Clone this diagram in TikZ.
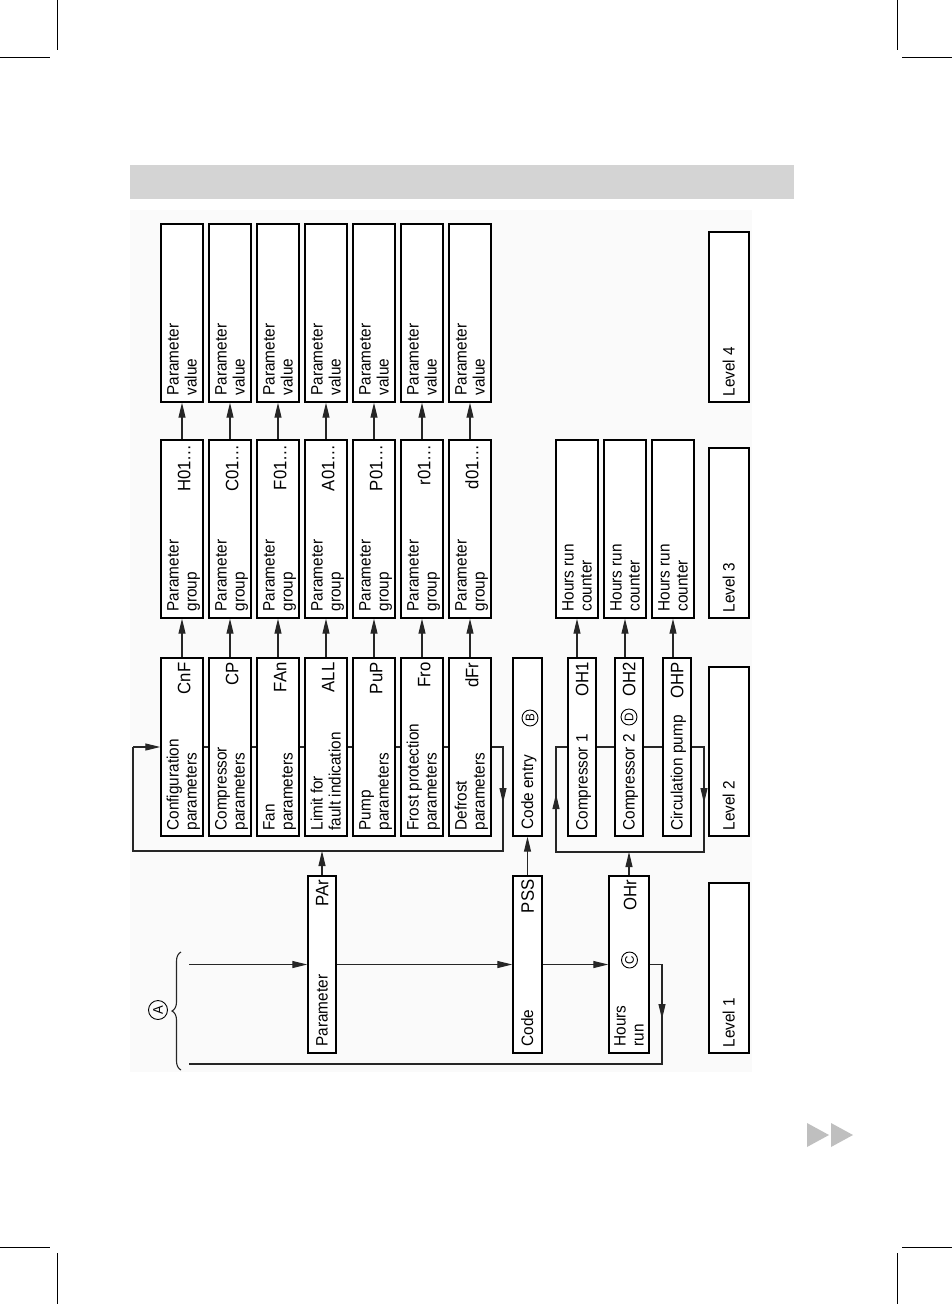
\documentclass[tikz,border=0pt]{standalone}
\usepackage{fontspec}
\setmainfont{Liberation Sans}[FakeStretch=0.93]
\usetikzlibrary{arrows.meta,calc,decorations.pathreplacing}
\newcommand\lfont{\fontsize{16.5}{18}\selectfont}
\newcommand\cfont{\fontsize{18}{20}\selectfont}
\newcommand\rfont{\fontsize{12.5}{14}\selectfont}
\newcommand\tw[2]{\rule{0pt}{15pt}#1\\#2\rule[-4pt]{0pt}{4pt}}
\newcommand\on[1]{\rule{0pt}{15pt}#1\rule[-4pt]{0pt}{4pt}}
\begin{document}
\begin{tikzpicture}[x=1pt,y=1pt,
 bx/.style={draw=black, line width=1.4pt, fill=white, rotate=90, inner sep=0pt},
 lbl/.style={rotate=90, anchor=west, align=left, inner sep=0pt, font=\lfont},
 cd/.style={rotate=90, anchor=east, inner sep=0pt, text height=12.5pt, text depth=0pt, font=\cfont},
 conn/.style={line width=1.1pt, draw=black!85},
 arr/.style={conn, -{Triangle[length=15pt,width=7pt]}},
 rc/.style={draw, circle, line width=0.9pt, rotate=90, inner sep=0pt, minimum size=16pt, font=\rfont},
 cropmk/.style={line width=0.9pt, draw=black}
]
\useasboundingbox (0,0) rectangle (952,-1304);
\fill[white] (0,0) rectangle (952,-1304);
% crop marks
\draw[cropmk] (57,0) -- (57,-50);
\draw[cropmk] (0,-57) -- (50,-57);
\draw[cropmk] (897,0) -- (897,-50);
\draw[cropmk] (902,-57) -- (952,-57);
\draw[cropmk] (0,-1247) -- (50,-1247);
\draw[cropmk] (57,-1253) -- (57,-1304);
\draw[cropmk] (902,-1247) -- (952,-1247);
\draw[cropmk] (897,-1253) -- (897,-1304);
% header bar and background
\fill[black!17] (130,-165) rectangle (794,-199);
\fill[black!2] (130,-210) rectangle (752,-1072);
% next-page icon
\fill[black!25] (807,-1123) -- (829,-1135) -- (807,-1147) -- cycle;
\fill[black!25] (831,-1123) -- (853,-1135) -- (831,-1147) -- cycle;

% parameter columns
\foreach \i/\a/\b/\c/\g in {0/Configuration/parameters/CnF/H01…,
  1/Compressor/parameters/CP/C01…, 2/Fan/parameters/FAn/F01…,
  3/Limit for/fault indication/ALL/A01…, 4/Pump/parameters/PuP/P01…,
  5/Frost protection/parameters/Fro/r01…, 6/Defrost/parameters/dFr/d01…}{
  \pgfmathsetmacro\xx{182+48*\i}
  \node[bx, minimum width=178pt, minimum height=42pt] (pv\i) at (\xx,-313) {};
  \node[lbl] (pvl\i) at ($(pv\i.west)+(0,7)$) {\tw{Parameter}{value}};
  \node[bx, minimum width=178pt, minimum height=42pt] (pg\i) at (\xx,-529) {};
  \node[lbl] (pgl\i) at ($(pg\i.west)+(0,7)$) {\tw{Parameter}{group}};
  \node[cd] (pgc\i) at ($(pg\i.east)+(2,-5)$) {\g};
  \node[bx, minimum width=178pt, minimum height=42pt] (pp\i) at (\xx,-747) {};
  \node[lbl] (ppl\i) at ($(pp\i.west)+(0,6)$) {\tw{\a}{\b}};
  \node[cd] (ppc\i) at ($(pp\i.east)+(2,-5)$) {\c};
  \draw[arr] (pp\i.east) -- (pg\i.west);
  \draw[arr] (pg\i.east) -- (pv\i.west);
}
\foreach \i [evaluate=\i as \j using int(\i+1)] in {0,...,5}{
  \draw[conn] (pp\i.south) -- (pp\j.north);
}
% parameter loop
\coordinate (pl1) at (503,-747);
\coordinate (pl1m) at (503,-803);
\coordinate (pl2) at (503,-851);
\coordinate (pl3) at (133,-851);
\coordinate (pl4) at (133,-747);
\draw[conn] (pp6.south) -- (pl1) -- (pl2) -- (pl3) -- (pl4);
\draw[arr] (pl1) -- (pl1m);
\draw[arr] (pl4) -- (pp0.north);

% level 1 boxes
\node[bx, minimum width=177pt, minimum height=28pt] (par) at (322,-964.5) {};
\node[lbl] (parl) at ($(par.west)+(0,7)$) {\on{Parameter}};
\node[cd] (parc) at ($(par.east)+(0,-4)$) {PAr};
\node[bx, minimum width=177pt, minimum height=29pt] (code) at (527.5,-964.5) {};
\node[lbl] (codel) at ($(code.west)+(0,7)$) {\on{Code}};
\node[cd] (codec) at ($(code.east)+(0,-4)$) {PSS};
\node[bx, minimum width=177pt, minimum height=40pt] (hrs) at (629,-964.5) {};
\node[lbl] (hrsl) at ($(hrs.west)+(0,7)$) {\tw{Hours}{run}};
\node[cd] (hrsc) at ($(hrs.east)+(1,-4)$) {OHr};
\node[rc] (cC) at (629.5,-960) {C};

% code entry
\node[bx, minimum width=178pt, minimum height=29pt] (cent) at (527.5,-747) {};
\node[lbl] (centl) at ($(cent.west)+(0,7)$) {\on{Code entry}};
\node[rc] (cB) at (530,-718) {B};

% level 1 connectors
\coordinate (in1) at (189,-964.5);
\draw[arr] (in1) -- (par.north);
\draw[arr] (par.south) -- (code.north);
\draw[arr] (code.south) -- (hrs.north);
\coordinate (hl1) at (662,-964.5);
\coordinate (hl1m) at (662,-1019);
\coordinate (hl2) at (662,-1064);
\coordinate (hl3) at (189,-1064);
\draw[conn] (hrs.south) -- (hl1) -- (hl2) -- (hl3);
\draw[arr] (hl1) -- (hl1m);
\draw[arr] (par.east) -- (par.east |- pl3);
\draw[arr] (code.east) -- (cent.west);

% brace A
\draw[conn, decorate, decoration={brace, amplitude=9pt}] (181,-1070) -- (181,-952);
\node[rc, minimum size=19pt, font=\fontsize{14}{16}\selectfont] (cA) at (158,-1010) {A};

% compressors
\foreach \k/\x/\hx/\t/\c in {1/582/577/Compressor 1/OH1, 2/629/625/Compressor 2/OH2, 3/677/673/Circulation pump/OHP}{
  \node[bx, minimum width=178pt, minimum height=28pt] (cp\k) at (\x,-747) {};
  \node[lbl] (cpl\k) at ($(cp\k.west)+(0,6)$) {\on{\t}};
  \node[cd] (cpc\k) at ($(cp\k.east)+(0,-5)$) {\c};
  \node[bx, minimum width=178pt, minimum height=42pt] (hc\k) at (\hx,-529) {};
  \node[lbl] (hcl\k) at ($(hc\k.west)+(0,7)$) {\tw{Hours run}{counter}};
  \draw[arr] (hc\k.west |- cp\k.east) -- (hc\k.west);
}
\node[rc] (cD) at (629,-717) {D};
\draw[conn] (cp1.south) -- (cp2.north);
\draw[conn] (cp2.south) -- (cp3.north);
% hours loop
\coordinate (ql1) at (704,-747);
\coordinate (ql1m) at (704,-803);
\coordinate (ql2) at (704,-852);
\coordinate (ql3) at (556,-852);
\coordinate (ql3m) at (556,-794);
\coordinate (ql4) at (556,-747);
\draw[conn] (cp3.south) -- (ql1) -- (ql2) -- (ql3) -- (ql4) -- (cp1.north);
\draw[arr] (ql1) -- (ql1m);
\draw[arr] (ql3) -- (ql3m);
\draw[arr] (hrs.east) -- (hrs.east |- ql2);

% level boxes
\node[bx, minimum width=170pt, minimum height=40pt] (lv1) at (729,-968) {};
\node[lbl] (lvl1) at ($(lv1.west)+(0,6)$) {\on{Level 1}};
\node[bx, minimum width=169pt, minimum height=40pt] (lv2) at (729,-751.5) {};
\node[lbl] (lvl2) at ($(lv2.west)+(0,6)$) {\on{Level 2}};
\node[bx, minimum width=170pt, minimum height=40pt] (lv3) at (729,-533) {};
\node[lbl] (lvl3) at ($(lv3.west)+(0,6)$) {\on{Level 3}};
\node[bx, minimum width=170pt, minimum height=40pt] (lv4) at (729,-317) {};
\node[lbl] (lvl4) at ($(lv4.west)+(0,6)$) {\on{Level 4}};
\end{tikzpicture}
\end{document}
